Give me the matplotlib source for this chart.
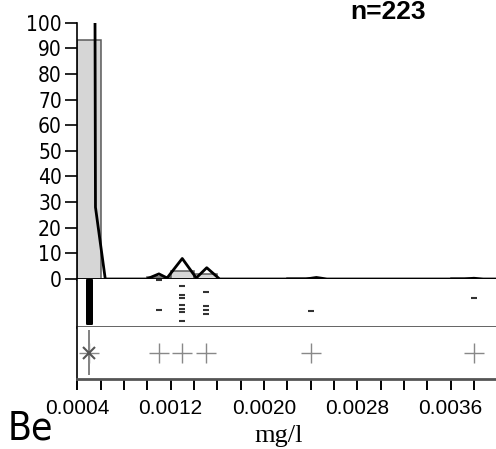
import numpy as np
import matplotlib
matplotlib.use("Agg")
import matplotlib.pyplot as plt

# data
values = [0.0005, 0.0011, 0.0013, 0.0015, 0.0024, 0.0038]
counts = [208, 2, 7, 4, 1, 1]
bin_edges = np.arange(0.0004, 0.00401, 0.0002)

# density polygon
curve_x = [0.000552, 0.000556, 0.00064, 0.000995, 0.00110, 0.00117, 0.00130,
           0.00142, 0.00151, 0.00162, 0.00236, 0.00245, 0.00254, 0.00372,
           0.00380, 0.00388, 0.0040]
curve_y = [101, 28, 0, 0, 2.0, 0.4, 8.0, 0.4, 4.4, 0, 0, 0.6, 0, 0, 0.3, 0, 0]

# vertical jitter of the points in the strip (0 = bottom, 1 = top)
jitter = {
    0.0011: [0.97, 0.34],
    0.0013: [0.86, 0.67, 0.60, 0.45, 0.37, 0.30, 0.12],
    0.0015: [0.72, 0.43, 0.34, 0.26],
    0.0024: [0.33],
    0.0038: [0.59],
}

xticks_major = [0.0004, 0.0012, 0.0020, 0.0028, 0.0036]
xlim = (0.0004, 0.00399)

data = np.repeat(values, counts)
n = len(data)
weights = np.full(n, 100.0 / n)

font = 'Liberation Sans'

fig = plt.figure(figsize=(4.96, 4.49), dpi=100)
ax1 = fig.add_axes([0.1558, 0.3786, 0.8442, 0.5708])
ax2 = fig.add_axes([0.1558, 0.2728, 0.8442, 0.1058])
ax3 = fig.add_axes([0.1558, 0.1548, 0.8442, 0.1180])

# histogram + density polygon
ax1.hist(data, bins=bin_edges, weights=weights, color='#d6d6d6',
         edgecolor='#5a5a5a', linewidth=1.1)
ax1.plot(curve_x, curve_y, color='black', lw=2)
ax1.set_xlim(*xlim)
ax1.set_ylim(0, 100)
ax1.set_yticks(np.arange(0, 101, 10))
ax1.set_xticks([])
ax1.tick_params(axis='y', direction='out', length=9, width=1.2, pad=2)
ax1.set_yticklabels([str(t) for t in range(0, 101, 10)], family='DejaVu Sans',
                    stretch='condensed', fontsize=15)
for s in ['top', 'right']:
    ax1.spines[s].set_visible(False)
ax1.spines['bottom'].set_linewidth(2)
ax1.spines['left'].set_linewidth(1.2)

# strip of single values
lo = np.linspace(0.08, 0.98, counts[0])
ax2.plot(np.full(counts[0], values[0]), lo, ls='none', marker='_',
         ms=5, mew=2, color='black')
for v, ys in jitter.items():
    ax2.plot([v] * len(ys), ys, ls='none', marker='_', ms=4, mew=1.5,
             color='#333333')
ax2.set_xlim(*xlim)
ax2.set_ylim(0, 1)
ax2.set_xticks([])
ax2.set_yticks([])
for s in ['top', 'right']:
    ax2.spines[s].set_visible(False)
ax2.spines['bottom'].set_linewidth(2)
ax2.spines['bottom'].set_color('#555555')
ax2.spines['left'].set_linewidth(1.2)

# box / outlier panel
med = np.median(data)
ax3.vlines(med, 0.09, 0.94, color='#777777', lw=1.3)
ax3.plot(values, [0.5] * len(values), ls='none', marker='+', ms=15,
         mew=1.0, color='#888888')
ax3.plot([med], [0.5], ls='none', marker='x', ms=9, mew=1.5,
         color='#555555')
ax3.set_xlim(*xlim)
ax3.set_ylim(0, 1)
ax3.set_yticks([])
ax3.set_xticks(np.arange(0.0004, 0.00399, 0.0002), minor=True)
ax3.set_xticks(xticks_major)
ax3.set_xticklabels(['%.4f' % t for t in xticks_major], family=font,
                    fontsize=15)
ax3.tick_params(axis='x', which='both', direction='out', length=8,
                width=1.4, pad=6)
for s in ['top', 'right']:
    ax3.spines[s].set_visible(False)
ax3.spines['bottom'].set_linewidth(2)
ax3.spines['bottom'].set_color('#555555')
ax3.spines['left'].set_linewidth(1.2)

fig.text(0.782, 0.958, 'n=223', ha='center', va='baseline', fontsize=19,
         fontweight='bold', family=font)
fig.text(0.016, 0.022, 'Be', ha='left', va='baseline', fontsize=28,
         family='DejaVu Sans', stretch='condensed')
fig.text(0.561, 0.016, 'mg/l', ha='center', va='baseline', fontsize=19,
         family='Liberation Serif')

fig.savefig('out.png', dpi=100)
